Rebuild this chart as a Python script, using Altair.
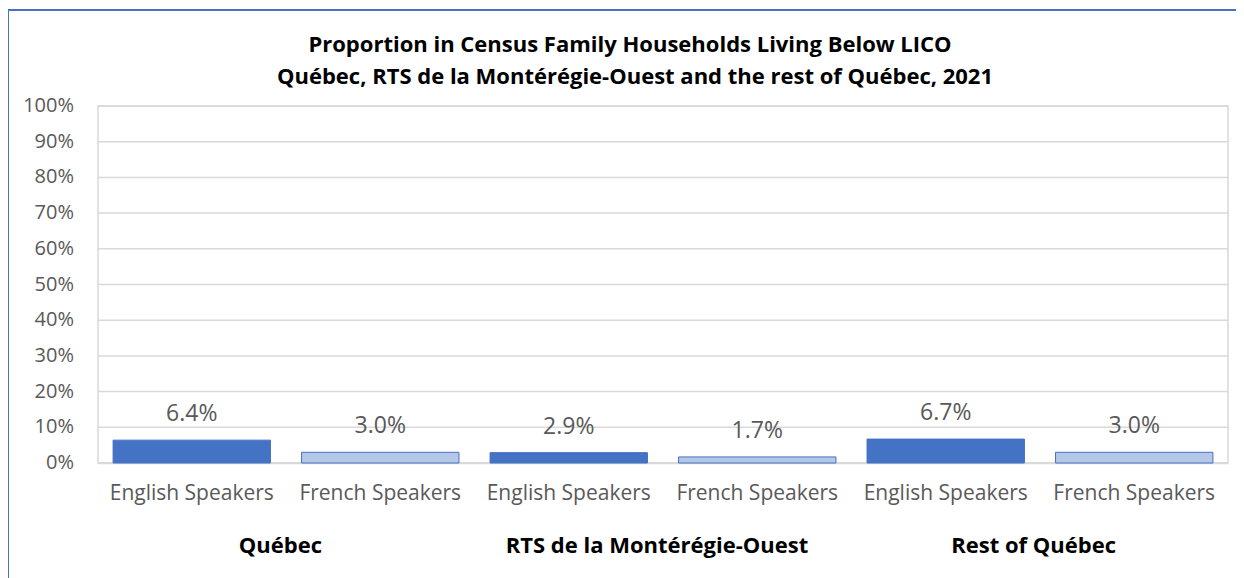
import altair as alt
import pandas as pd

groups = ["Québec", "Québec", "RTS de la Montérégie-Ouest", "RTS de la Montérégie-Ouest",
          "Rest of Québec", "Rest of Québec"]
speakers = ["English Speakers", "French Speakers"] * 3
values = [0.064, 0.030, 0.029, 0.017, 0.067, 0.030]
group_order = ["Québec", "RTS de la Montérégie-Ouest", "Rest of Québec"]
y_ticks = [0, 0.1, 0.2, 0.3, 0.4, 0.5, 0.6, 0.7, 0.8, 0.9, 1.0]
title_line1 = "Proportion in Census Family Households Living Below LICO"
title_line2 = "Québec, RTS de la Montérégie-Ouest and the rest of Québec, 2021"

df = pd.DataFrame({"group": groups, "speaker": speakers, "value": values})
df["cat"] = df["group"] + "|" + df["speaker"]
cat_order = list(df["cat"])
gdf = pd.DataFrame({"group": group_order})
tdf = pd.DataFrame({"t1": [title_line1], "t2": [title_line2]})
ydf = pd.DataFrame({"tick": y_ticks})

W, H = 1130, 357
FONT = "Open Sans"
GREY = "#595959"
GRID = "#D9D9D9"

yscale = alt.Scale(domain=[0, 1], nice=False, zero=True)

x_enc = alt.X("cat:N", sort=cat_order, title=None,
              scale=alt.Scale(paddingInner=0.165, paddingOuter=0.08),
              axis=alt.Axis(labelExpr="split(datum.value, '|')[1]", labelAngle=0,
                            labelFontSize=21, labelColor=GREY, labelFont=FONT,
                            labelPadding=19, ticks=False, domainColor=GRID,
                            domainWidth=1.5, grid=False, labelOverlap=False))
y_enc = alt.Y("value:Q", title=None, scale=yscale, axis=None)

grid = alt.Chart(ydf).mark_rule(color=GRID, strokeWidth=1.5).encode(
    y=alt.Y("tick:Q", scale=yscale, axis=None))

ylabels = alt.Chart(ydf).mark_text(align="right", baseline="middle", fontSize=20,
                                   color=GREY, font=FONT).encode(
    x=alt.value(-24),
    y=alt.Y("tick:Q", scale=yscale, axis=None),
    text=alt.Text("tick:Q", format=".0%"))

bars = alt.Chart(df).mark_bar(stroke="#4472C4", strokeWidth=1).encode(
    x=x_enc, y=y_enc,
    color=alt.Color("speaker:N", legend=None,
                    scale=alt.Scale(domain=["English Speakers", "French Speakers"],
                                    range=["#4472C4", "#B4C7E7"])))

labels = alt.Chart(df).mark_text(baseline="bottom", dy=-14, fontSize=23,
                                 color=GREY, font=FONT).encode(
    x=x_enc, y=y_enc,
    text=alt.Text("value:Q", format=".1%"))

group_labels = alt.Chart(gdf).mark_text(fontSize=22, fontWeight="bold", color="black",
                                        font=FONT, baseline="middle", dx=-6).encode(
    x=alt.X("group:N", sort=group_order, axis=None,
            scale=alt.Scale(paddingInner=0, paddingOuter=0)),
    y=alt.value(H + 83),
    text="group:N")

t1 = alt.Chart(tdf).mark_text(fontSize=22, fontWeight="bold", color="black", font=FONT,
                              baseline="middle").encode(
    x=alt.value(W / 2 - 33), y=alt.value(-61), text="t1:N")
t2 = alt.Chart(tdf).mark_text(fontSize=22, fontWeight="bold", color="black", font=FONT,
                              baseline="middle").encode(
    x=alt.value(W / 2 - 28), y=alt.value(-29), text="t2:N")

border = alt.Chart(gdf).mark_rule(color="#4472C4", strokeWidth=2).encode(
    x=alt.value(-90), x2=alt.value(W + 40), y=alt.value(-96))
border_left = alt.Chart(gdf).mark_rule(color="#4472C4", strokeWidth=2).encode(
    x=alt.value(-90), y=alt.value(-96), y2=alt.value(H + 200))

main = alt.layer(grid, ylabels, bars, labels)
chart = alt.layer(main, group_labels, t1, t2, border, border_left).resolve_scale(
    x="independent"
).properties(
    width=W, height=H,
    padding={"left": 90, "top": 98, "right": 8, "bottom": 115},
    autosize=alt.AutoSizeParams(type="none"),
).configure_view(stroke=GRID, strokeWidth=1.5)

chart.save("out.html", embed_options={"renderer": "svg", "actions": False})
